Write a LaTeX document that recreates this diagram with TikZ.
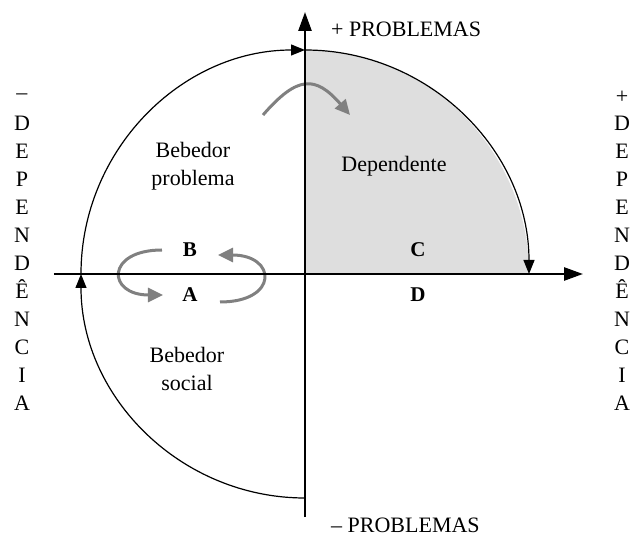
\documentclass[tikz,border=0pt]{standalone}
\usepackage{fontspec}
\setmainfont{Liberation Serif}
\usepackage{tikz}
\usetikzlibrary{calc}
\usetikzlibrary{arrows.meta}
\definecolor{quadgray}{gray}{0.87}
\definecolor{loopgray}{gray}{0.5}

\begin{document}
\begin{tikzpicture}[x=1pt, y=1pt]
\tikzstyle{axis}=[line width=2.6pt, -{Triangle[length=19pt,width=13pt]}]
\tikzstyle{ring}=[line width=1.2pt, -{Triangle[length=14pt,width=11pt]}]
\tikzstyle{loop_arrow}=[line width=3pt, draw=loopgray, -{Triangle[length=15pt,width=14pt]}]
\tikzstyle{label_txt}=[font=\fontsize{22}{28}\selectfont, inner sep=0pt, align=center]
\tikzstyle{label_bold}=[font=\fontsize{21}{28}\selectfont\bfseries, inner sep=0pt]

\useasboundingbox (-305,-263) rectangle (326,274);

\path (0,0) coordinate (O)
      (-251,0) coordinate (Xl)
      (278,0) coordinate (Xr)
      (0,262) coordinate (Yt)
      (0,-243) coordinate (Yb)
      (0,224) coordinate (Rt)
      (0,-224) coordinate (Rb)
      (-224,0) coordinate (Rl);

% dependent quadrant
\fill[quadgray] (O) -- (Rt) arc[start angle=90, end angle=0, radius=224] -- cycle;

\draw[ring] (Rb) arc[start angle=270, end angle=180, radius=224];
\draw[ring] (Rl) arc[start angle=180, end angle=90, radius=224];
\draw[ring] (Rt) arc[start angle=90, end angle=0, radius=224];

% grey arrows
\path (-42,159) coordinate (Ts)
      (45,159) coordinate (Te)
      (-143,24) coordinate (Bs)
      (-142,-21) coordinate (Ae)
      (-85,-28) coordinate (As)
      (-87,19) coordinate (Be);
\draw[loop_arrow] (Ts) to[out=49, in=131, looseness=1.55] (Te);
\draw[loop_arrow] (Bs) to[out=180, in=180, looseness=3.2] (Ae);
\draw[loop_arrow] (As) to[out=0, in=0, looseness=3.2] (Be);

\draw[axis] (Xl) -- (Xr);
\draw[axis] (Yb) -- (Yt);

\path (26,237) node[label_txt, anchor=base west](pplus) {+ PROBLEMAS}
      (26,-258) node[label_txt, anchor=base west](pminus) {\textendash{} PROBLEMAS}
      (-112,108) node[label_txt](bprob) {Bebedor\\problema}
      (89,108) node[label_txt](dep) {Dependente}
      (-118,-95) node[label_txt](bsoc) {Bebedor\\social}
      (-115,24) node[label_bold](lB) {B}
      (-115,-21) node[label_bold](lA) {A}
      (113,24) node[label_bold](lC) {C}
      (113,-21) node[label_bold](lD) {D};

% vertical words
\node[label_txt] (dminus) at (-283,177) {\textendash};
\node[label_txt] (dplus) at (317,177) {+};
\foreach \ch [count=\k from 0] in {D,E,P,E,N,D,Ê,N,C,I,A} {
  \node[label_txt, anchor=base] (dl\k) at (-283,{143.5-28*\k}) {\ch};
  \node[label_txt, anchor=base] (dr\k) at (317,{143.5-28*\k}) {\ch};
}

\end{tikzpicture}
\end{document}
